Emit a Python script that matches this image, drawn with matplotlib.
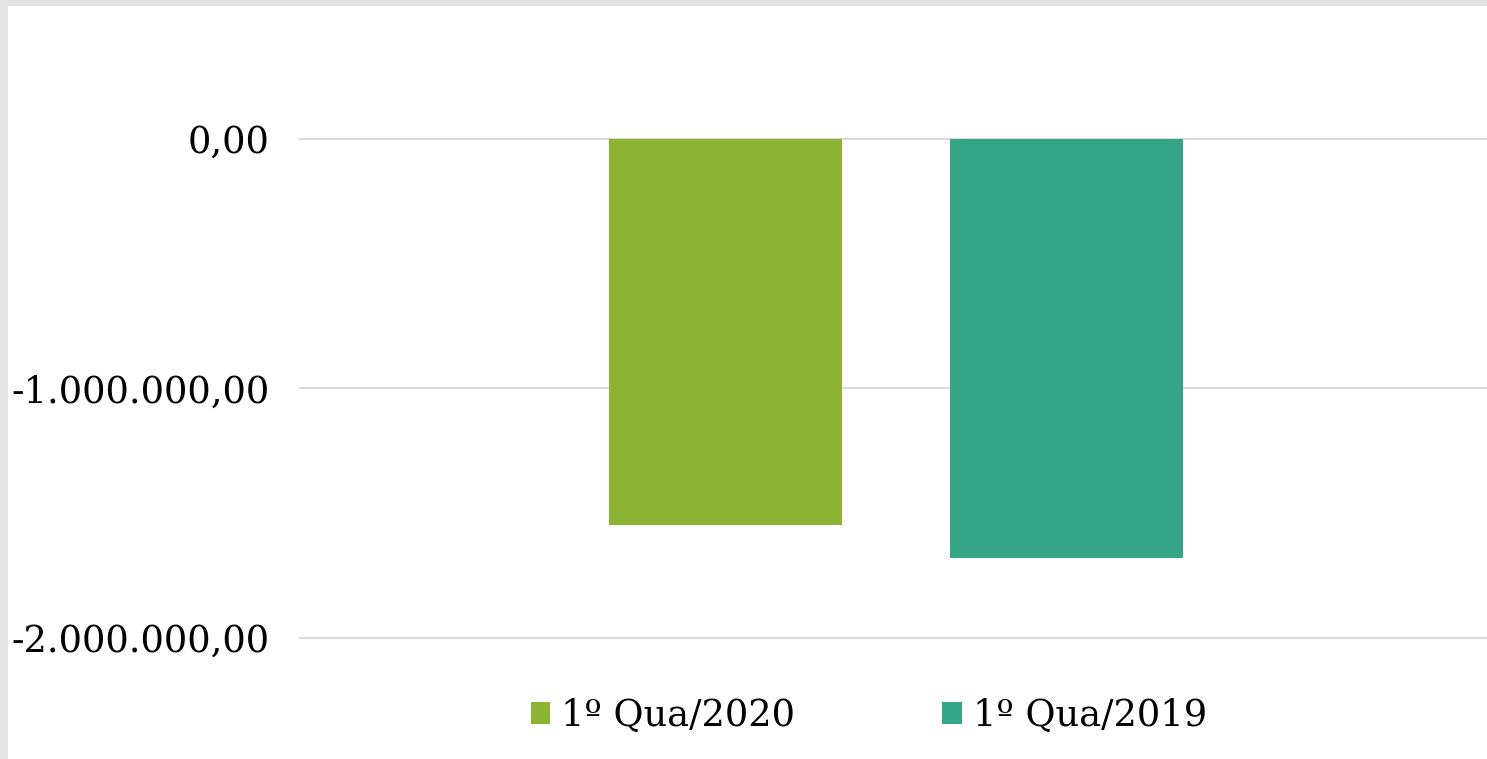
import matplotlib
matplotlib.use("Agg")
import matplotlib.pyplot as plt
from matplotlib.patches import Rectangle, Patch
from matplotlib.ticker import FuncFormatter

series = ["1º Qua/2020", "1º Qua/2019"]
values = [-1547000, -1679000]
colors = ["#8bb435", "#34a685"]
yticks = [0, -1000000, -2000000]

W, H = 1487, 759
fig = plt.figure(figsize=(W / 100, H / 100), dpi=100)
fig.patch.set_facecolor("#e3e3e3")
fig.patches.append(Rectangle((8 / W, 0), 1, 1 - 6 / H, transform=fig.transFigure,
                             facecolor="white", edgecolor="none", zorder=-10))

ax = fig.add_axes([300 / W, 1 - 638 / H, (1487 - 300) / W, (638 - 139) / H])
ax.set_facecolor("none")
x = range(len(values))
ax.bar(x, values, width=0.683, color=colors, zorder=3)
ax.set_xlim(-1.248, 2.233)
ax.set_ylim(-2000000, 0)
ax.set_yticks(yticks)


def fmt(v, pos):
    s = f"{abs(v):,.2f}".replace(",", "X").replace(".", ",").replace("X", ".")
    return ("-" if v < 0 else "") + s


ax.yaxis.set_major_formatter(FuncFormatter(fmt))
ax.tick_params(axis="y", length=0, pad=22, labelsize=26.5, labelfontfamily="DejaVu Serif")
ax.set_xticks([])
for s in ax.spines.values():
    s.set_visible(False)
ax.grid(axis="y", color="#d9d9d9", linewidth=1.5, zorder=0)
ax.set_axisbelow(True)
for gl in ax.get_ygridlines():
    gl.set_clip_on(False)

handles = [Patch(facecolor=c, edgecolor="none") for c in colors]
fig.legend(handles, series, loc="center", bbox_to_anchor=(869 / W, 1 - 716 / H), ncol=2,
           frameon=False, prop={"family": "DejaVu Serif", "size": 26.5},
           handlelength=0.52, handleheight=0.55, handletextpad=0.3, columnspacing=4.0)

fig.savefig("out.png", dpi=100, facecolor=fig.get_facecolor())
